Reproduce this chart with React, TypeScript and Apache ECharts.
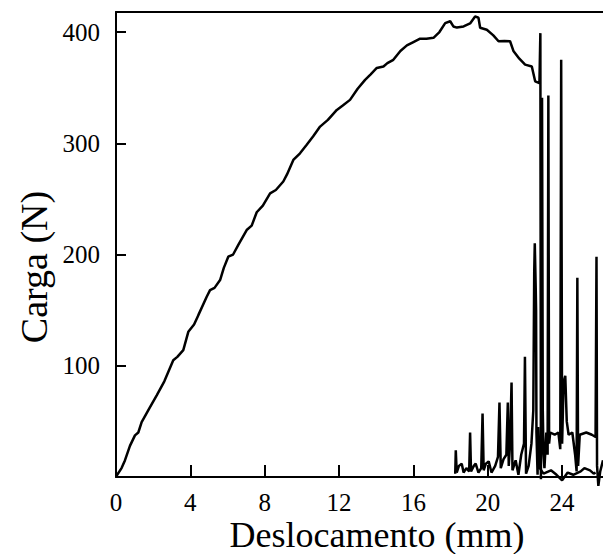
import React, { useEffect, useRef } from "react";
import * as echarts from "echarts";

// Main load-displacement curve (mm, N)
const mainX = [0, 0.04, 0.3, 0.48, 0.75, 1.02, 1.2, 1.38, 1.8, 2.19, 2.6, 3.08, 3.3, 3.62, 3.89, 4.2, 4.43, 4.88, 5.06, 5.3, 5.6, 5.8, 6.04, 6.3, 6.58, 7.03, 7.3, 7.57, 7.9, 8.29, 8.6, 9.0, 9.2, 9.54, 9.9, 10.26, 10.6, 10.98, 11.4, 11.88, 12.2, 12.59, 13.0, 13.4, 13.7, 14.03, 14.39, 14.6, 14.92, 15.3, 15.65, 16.0, 16.36, 16.7, 17.08, 17.4, 17.71, 17.98, 18.15, 18.34, 18.7, 19.05, 19.32, 19.5, 19.59, 19.95, 20.3, 20.58, 20.9, 21.2, 21.38, 21.7, 22.01, 22.37, 22.55, 22.78, 22.83, 22.86, 22.92, 22.96, 23.0, 23.05, 23.15, 23.22, 23.26, 23.3, 23.36, 23.6, 23.8, 23.9, 23.95, 24.0, 24.08, 24.17, 24.25, 24.35, 24.55, 24.7, 24.78, 24.82, 24.86, 24.95, 25.3, 25.6, 25.8, 25.85, 25.88, 25.95, 26.05, 26.2];
const mainY = [0, 1.4, 8, 14.9, 28, 37.4, 40, 49.4, 62, 73.4, 86, 105, 108, 114, 130.5, 137, 145.5, 162, 168, 170, 177, 188, 198, 200, 208.6, 222, 226, 238, 244, 255, 258, 265.6, 272, 285, 291, 298.6, 306, 315, 321, 330, 334, 339, 349, 357, 362, 367.7, 369, 372, 375, 383, 388, 391, 394, 394, 394.8, 400, 408, 409.7, 405, 404, 405, 407.7, 414, 412.8, 403.8, 402, 397, 391.7, 392, 391.7, 383, 376, 370.7, 369, 355.7, 354, 399, -2, 341, 60, 20, 8, 40, 20, 343, 30, 40, 38, 40, 25, 375, 30, 85, 91, 50, 38, 40, 20, 5, 179, 10, 38, 40, 38, 36, 198, 10, -8, 5, 15];

// Post-failure oscillations (mm, N)
const spikeX = [18.25, 18.28, 18.33, 18.45, 18.6, 18.7, 18.85, 19.0, 19.05, 19.1, 19.25, 19.35, 19.5, 19.65, 19.72, 19.78, 19.9, 20.05, 20.2, 20.4, 20.55, 20.63, 20.7, 20.85, 21.0, 21.08, 21.13, 21.2, 21.28, 21.33, 21.5, 21.65, 21.8, 21.95, 22.0, 22.06, 22.2, 22.35, 22.45, 22.5, 22.53, 22.58, 22.6, 22.62, 22.68, 22.72, 22.76, 22.8, 23.0, 23.4, 23.7, 24.0, 24.3, 24.6, 25.0, 25.2, 25.5, 25.7, 25.8];
const spikeY = [3, 24, 4, 10, 12, 4, 8, 5, 40, 5, 10, 12, 4, 8, 57, 6, 12, 14, 4, 10, 18, 67, 8, 16, 20, 67, 10, 30, 85, 6, 15, 2, 20, 30, 108, 3, 10, 30, 60, 185, 210, 170, 150, 40, 2, 45, 30, 8, 3, 6, 2, -3, 4, 2, 5, 8, 6, 3, 4];

const xTicks = { min: 0, max: 26.2, interval: 4 };
const yTicks = { min: 0, max: 418, interval: 100 };

const FONT = "Liberation Serif";

export default function App() {
  const ref = useRef<HTMLDivElement>(null);
  useEffect(() => {
    if (!ref.current) return;
    const chart = echarts.init(ref.current, undefined, { renderer: "svg" });
    const mainData = mainX.map((x, i) => [x, mainY[i]]);
    const spikeData = spikeX.map((x, i) => [x, spikeY[i]]);
    const axisLine = { show: true, lineStyle: { color: "#000", width: 2 } };
    const tickLabel = { color: "#000", fontFamily: FONT, fontSize: 25 };
    chart.setOption({
      animation: false,
      backgroundColor: "#fff",
      textStyle: { fontFamily: FONT },
      grid: { left: 116, right: 0, top: 12, bottom: 77, containLabel: false },
      xAxis: [
        {
          type: "value",
          min: xTicks.min,
          max: xTicks.max,
          interval: xTicks.interval,
          axisLine,
          axisTick: { show: true, inside: true, length: 12, lineStyle: { color: "#000", width: 2 } },
          axisLabel: { ...tickLabel, margin: 13, showMaxLabel: false },
          splitLine: { show: false },
        },
        {
          type: "value",
          position: "top",
          min: xTicks.min,
          max: xTicks.max,
          axisLine,
          axisTick: { show: false },
          axisLabel: { show: false },
          splitLine: { show: false },
        },
      ],
      yAxis: {
        type: "value",
        min: yTicks.min,
        max: yTicks.max,
        interval: yTicks.interval,
        axisLine,
        axisTick: { show: true, inside: true, length: 10, lineStyle: { color: "#000", width: 2 } },
        axisLabel: { ...tickLabel, margin: 16, showMinLabel: false, showMaxLabel: false },
        splitLine: { show: false },
      },
      graphic: [
        {
          type: "text",
          x: 34,
          y: 267,
          rotation: Math.PI / 2,
          style: { text: "Carga (N)", font: `38px ${FONT}`, fill: "#000", textAlign: "center", textVerticalAlign: "middle", align: "center", verticalAlign: "middle" },
        },
        {
          type: "text",
          x: 377,
          y: 535,
          style: { text: "Deslocamento (mm)", font: `36px ${FONT}`, fill: "#000", textAlign: "center", textVerticalAlign: "middle", align: "center", verticalAlign: "middle" },
        },
      ],
      series: [
        {
          type: "line",
          data: mainData,
          showSymbol: false,
          clip: false,
          lineStyle: { color: "#000", width: 2.5 },
          itemStyle: { color: "#000" },
        },
        {
          type: "line",
          data: spikeData,
          showSymbol: false,
          clip: false,
          lineStyle: { color: "#000", width: 2.5 },
          itemStyle: { color: "#000" },
        },
      ],
    });
    return () => chart.dispose();
  }, []);
  return <div ref={ref} style={{ position: "fixed", left: 0, top: 0, width: 603, height: 554 }} />;
}
